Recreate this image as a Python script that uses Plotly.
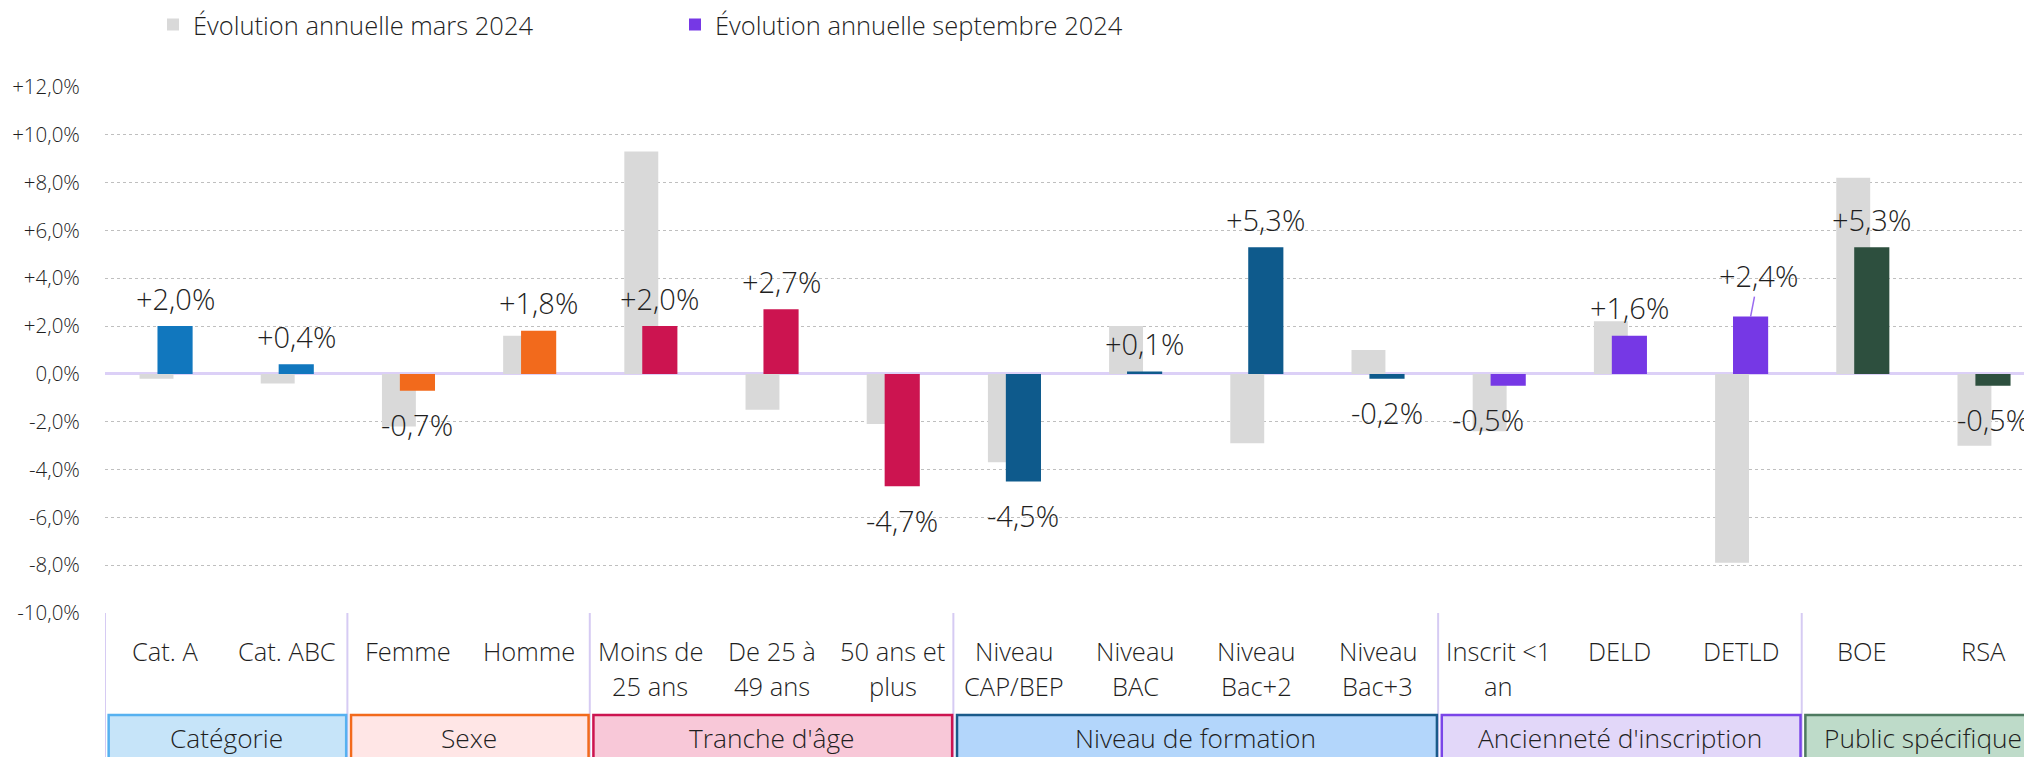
import plotly.graph_objects as go

# ---------------- data ----------------
categories = ["Cat. A", "Cat. ABC", "Femme", "Homme", "Moins de\n25 ans", "De 25 à\n49 ans",
              "50 ans et\nplus", "Niveau\nCAP/BEP", "Niveau\nBAC", "Niveau\nBac+2", "Niveau\nBac+3",
              "Inscrit &lt;1\nan", "DELD", "DETLD", "BOE", "RSA"]
mars_2024 = [-0.2, -0.4, -2.2, 1.6, 9.3, -1.5, -2.1, -3.7, 2.0, -2.9, 1.0, -2.4, 2.2, -7.9, 8.2, -3.0]
sept_2024 = [2.0, 0.4, -0.7, 1.8, 2.0, 2.7, -4.7, -4.5, 0.1, 5.3, -0.2, -0.5, 1.6, 2.4, 5.3, -0.5]

groups = ["Catégorie", "Sexe", "Tranche d'âge", "Niveau de formation", "Ancienneté d'inscription", "Public spécifique"]
group_sizes = [2, 2, 3, 4, 3, 2]
group_bar_colors = ["#1177BE", "#F26A1C", "#CC1450", "#0E5A8C", "#7638E5", "#2D4F3E"]
group_fill_colors = ["#C6E4F9", "#FFE6E6", "#F8C8D8", "#B3D6FB", "#E2D7F9", "#BEDBC9"]
group_line_colors = ["#56B1F0", "#F26A1C", "#CC1450", "#1A5A8A", "#7A45E8", "#4E7A60"]

y_ticks = [-10, -8, -6, -4, -2, 0, 2, 4, 6, 8, 10, 12]
y_tick_labels = ["-10,0%", "-8,0%", "-6,0%", "-4,0%", "-2,0%", "0,0%", "+2,0%", "+4,0%",
                 "+6,0%", "+8,0%", "+10,0%", "+12,0%"]

series_names = ["Évolution annuelle mars 2024", "Évolution annuelle septembre 2024"]
gray = "#D9D9D9"
legend_sept_color = "#7638E5"

# ---------------- layout constants ----------------
# the page body adds an 8px margin; positions below are figure pixels
OFF = 8
W, H = 2032 - OFF, 757 - OFF
PLOT_TOP, PLOT_BOTTOM = 87 - OFF, 613 - OFF
FONT = "Open Sans"
WEIGHT = 300
TEXT = "#1F1F1F"


def ypx(px_window):
    """window pixel row -> paper coordinate"""
    p = px_window - OFF
    return (PLOT_BOTTOM - p) / (PLOT_BOTTOM - PLOT_TOP)


idx = list(range(len(categories)))
bar_colors = []
starts = []
s = 0
for g, n in enumerate(group_sizes):
    bar_colors += [group_bar_colors[g]] * n
    starts.append(s)
    s += n

fig = go.Figure()
fig.add_trace(go.Bar(x=idx, y=mars_2024, width=0.28, offset=-0.215, marker_color=gray,
                     marker_line_width=0, name=series_names[0], hoverinfo="skip"))
fig.add_trace(go.Bar(x=idx, y=sept_2024, width=0.29, offset=-0.067, marker_color=bar_colors,
                     marker_line_width=0, name=series_names[1], showlegend=False))
fig.add_trace(go.Bar(x=[None], y=[None], marker_color=legend_sept_color, marker_line_width=0,
                     name=series_names[1]))


def f(size):
    return dict(size=size, color=TEXT, family=FONT, weight=WEIGHT)


annotations = []
# data labels
for i, v in enumerate(sept_2024):
    txt = f"{v:+.1f}%".replace(".", ",")
    xc = i - 0.067 + 0.145
    if categories[i] == "DETLD":
        annotations.append(dict(x=xc, y=v, text=txt, showarrow=True, arrowhead=0, arrowwidth=1.5,
                                arrowcolor="#9A6BF0", ax=8, ay=-41, standoff=0, font=f(29)))
        continue
    annotations.append(dict(x=xc, y=v, text=txt, showarrow=False, yanchor="middle",
                            yshift=28 if v >= 0 else -34,
                            xshift=-20 if categories[i].startswith("Inscrit") else 0,
                            font=f(29)))
# category labels
for i, c in enumerate(categories):
    for j, line in enumerate(c.split("\n")):
        annotations.append(dict(x=i, y=ypx(651 + 34.5 * j), yref="paper", text=line, showarrow=False,
                                yanchor="middle", font=f(25.5)))

shapes = []
for g, n in enumerate(group_sizes):
    x0 = starts[g] - 0.5
    x1 = starts[g] + n - 0.5
    shapes.append(dict(type="rect", xref="x", yref="paper", x0=x0 + 0.03, x1=x1 - 0.01,
                       y0=ypx(762), y1=ypx(715), fillcolor=group_fill_colors[g],
                       line=dict(color=group_line_colors[g], width=2.5), layer="above"))
    annotations.append(dict(x=(x0 + x1) / 2, y=ypx(738), yref="paper", text=groups[g], showarrow=False,
                            yanchor="middle", font=f(26.3)))
    shapes.append(dict(type="line", xref="x", yref="paper", x0=x0, x1=x0, y0=0, y1=ypx(757),
                       line=dict(color="#D6CBF3", width=2), layer="below"))

fig.update_layout(
    template="none",
    width=W, height=H,
    margin=dict(l=105 - OFF, r=0, t=PLOT_TOP, b=H - PLOT_BOTTOM, pad=0, autoexpand=False),
    paper_bgcolor="white", plot_bgcolor="white",
    barmode="overlay",
    font=dict(family=FONT, color=TEXT, weight=WEIGHT),
    showlegend=True,
    legend=dict(orientation="h", xref="container", yref="container", x=(153 - OFF) / W,
                y=1 - (25 - OFF) / H, xanchor="left", yanchor="middle",
                font=f(25.5), bgcolor="rgba(0,0,0,0)", borderwidth=0,
                entrywidth=477, entrywidthmode="pixels", traceorder="normal"),
    xaxis=dict(range=[-0.5, 15.4], showgrid=False, zeroline=False, showticklabels=False,
               showline=False, ticks="", automargin=False),
    yaxis=dict(range=[-10, 12], tickvals=y_ticks, ticktext=y_tick_labels, automargin=False,
               showgrid=True, gridcolor="#BFBFBF", griddash="dot", gridwidth=1,
               zeroline=True, zerolinecolor="#DCD0F7", zerolinewidth=3,
               ticks="outside", ticklen=20, tickcolor="rgba(0,0,0,0)",
               tickfont=f(20.5), showline=False),
    annotations=annotations,
    shapes=shapes,
)

fig.write_html("out.html")
